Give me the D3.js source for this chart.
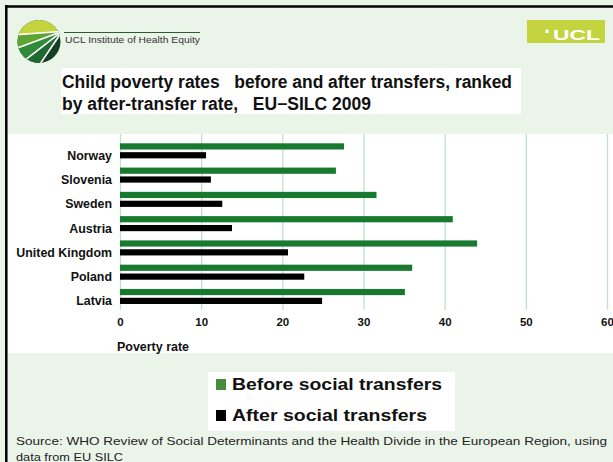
<!DOCTYPE html>
<html>
<head>
<meta charset="utf-8">
<script src="https://cdn.jsdelivr.net/npm/d3@7"></script>
<style>
  html, body { margin: 0; padding: 0; background: #ebf4e9; }
  svg { display: block; }
  text { font-family: "Liberation Sans", Arial, sans-serif; }
</style>
</head>
<body>
<svg id="chart" width="613" height="462"></svg>
<script>
// Child poverty rates (%) before and after social transfers, EU-SILC 2009
const countries = ["Norway", "Slovenia", "Sweden", "Austria", "United Kingdom", "Poland", "Latvia"];
const beforeTransfers = [27.6, 26.6, 31.6, 41.0, 44.0, 36.0, 35.1];
const afterTransfers = [10.6, 11.2, 12.6, 13.8, 20.7, 22.7, 24.9];
const seriesNames = ["Before social transfers", "After social transfers"];
const xTicks = [0, 10, 20, 30, 40, 50, 60];
const titleLines = ["Child poverty rates   before and after transfers, ranked", "by after-transfer rate,   EU\u2212SILC 2009"];
const sourceLines = ["Source: WHO Review of Social Determinants and the Health Divide in the European Region, using", "data from EU SILC"];

const W = 613, H = 462;
const svg = d3.select("#chart");
const seriesColor = { before: "#177a2e", after: "#000000" };
const legendColor = ["#4a8b3c", "#000000"];

// page background and frame
svg.append("rect").attr("width", W).attr("height", H).attr("fill", "#ebf4e9");
svg.append("line").attr("x1", 5).attr("x2", W).attr("y1", 6.5).attr("y2", 6.5)
  .attr("stroke", "#000").attr("stroke-width", 2.5);
svg.append("line").attr("x1", 6.3).attr("x2", 6.3).attr("y1", 5).attr("y2", H)
  .attr("stroke", "#000").attr("stroke-width", 2.5);

// --- Institute logo (circle with rays) ---
const logo = svg.append("g");
const cx = 39, cy = 41.5, r = 21.5;
svg.append("defs").append("clipPath").attr("id", "logoClip")
  .append("circle").attr("cx", cx).attr("cy", cy).attr("r", r);
const apex = [62, 31.5];
const edge = [[12, 35], [12, 50], [20, 64], [36, 70]];
const lg = logo.append("g").attr("clip-path", "url(#logoClip)");
lg.append("rect").attr("x", 10).attr("y", 15).attr("width", 60).attr("height", 55).attr("fill", "#173f24");
const wedge = (pts, fill) => lg.append("polygon").attr("points", pts.map(p => p.join(",")).join(" ")).attr("fill", fill);
wedge([apex, edge[0], [0, 35], [0, 0], [80, 0], [80, apex[1]]], "#c3d43f");
wedge([apex, edge[0], edge[1]], "#5ea434");
wedge([apex, edge[1], edge[2]], "#2f8a3a");
wedge([apex, edge[2], edge[3]], "#1f6a30");
edge.forEach(p => lg.append("line").attr("x1", apex[0]).attr("y1", apex[1]).attr("x2", p[0]).attr("y2", p[1])
  .attr("stroke", "#fff").attr("stroke-width", 1.6));
logo.append("line").attr("x1", 64).attr("x2", 200).attr("y1", 32.5).attr("y2", 32.5)
  .attr("stroke", "#2f5a30").attr("stroke-width", 1);
logo.append("text").attr("x", 65).attr("y", 43).attr("font-size", 9.5).attr("fill", "#333")
  .attr("textLength", 135).attr("lengthAdjust", "spacingAndGlyphs")
  .text("UCL Institute of Health Equity");

// --- UCL wordmark ---
svg.append("rect").attr("x", 527).attr("y", 20).attr("width", 78).attr("height", 23).attr("fill", "#c3d43f");
svg.append("path").attr("d", "M545.5,33 L545.5,30.5 L547,29 L548.5,30.5 L548.5,33 Z").attr("fill", "#fff");
svg.append("text").attr("x", 553).attr("y", 40).attr("font-size", 15).attr("font-weight", "bold")
  .attr("fill", "#fff").attr("textLength", 47).attr("lengthAdjust", "spacingAndGlyphs").text("UCL");

// --- Title ---
svg.append("rect").attr("x", 61).attr("y", 68).attr("width", 460).attr("height", 46).attr("fill", "#fff");
const titleWidths = [450, 309];
titleLines.forEach((t, i) => {
  svg.append("text").attr("x", 62).attr("y", 88 + i * 22).attr("font-size", 17.5).attr("font-weight", "bold")
    .attr("fill", "#111").style("white-space", "pre")
    .attr("textLength", titleWidths[i]).attr("lengthAdjust", "spacingAndGlyphs").text(t);
});

// --- Chart panel ---
svg.append("rect").attr("x", 8).attr("y", 134).attr("width", W - 8).attr("height", 219).attr("fill", "#fff");

const x = d3.scaleLinear().domain([0, 60]).range([120, 607]);
const y = d3.scaleBand().domain(countries).range([138.7, 308.6]).paddingInner(0.38).paddingOuter(0.19);
const keys = ["before", "after"];
const ySub = d3.scaleBand().domain(keys).range([0, y.bandwidth()]).paddingInner(0.3);

const rows = countries.map((c, i) => ({ country: c, before: beforeTransfers[i], after: afterTransfers[i] }));

// grid + tick labels via bottom axis
const gridTop = 134, axisY = 310;
const axis = d3.axisBottom(x).tickValues(xTicks).tickFormat(d3.format("d"))
  .tickSizeInner(-(axisY - gridTop)).tickSizeOuter(0).tickPadding(8);
const gAxis = svg.append("g").attr("transform", `translate(0,${axisY})`).call(axis);
gAxis.select(".domain").remove();
gAxis.selectAll(".tick line").attr("stroke", "#c1e2ca").attr("stroke-width", 1.3);
gAxis.selectAll(".tick text").attr("font-size", 11.5).attr("font-weight", "bold")
  .attr("font-family", "Liberation Sans, Arial, sans-serif").attr("fill", "#111");

// bars
const groups = svg.append("g").selectAll("g").data(rows).join("g")
  .attr("transform", d => `translate(0,${y(d.country)})`);
groups.selectAll("rect").data(d => keys.map(k => ({ key: k, value: d[k] }))).join("rect")
  .attr("x", x(0)).attr("y", d => ySub(d.key)).attr("height", ySub.bandwidth())
  .attr("width", d => x(d.value) - x(0)).attr("fill", d => seriesColor[d.key]);

// category labels
svg.append("g").selectAll("text").data(rows).join("text")
  .attr("x", 112).attr("y", d => y(d.country) + ySub("after") + ySub.bandwidth() / 2)
  .attr("dy", "0.36em").attr("text-anchor", "end").attr("font-size", 12.4).attr("font-weight", "bold")
  .attr("fill", "#111").text(d => d.country);

// axis title
svg.append("text").attr("x", 117).attr("y", 351).attr("font-size", 12).attr("font-weight", "bold")
  .attr("fill", "#111").attr("textLength", 72).attr("lengthAdjust", "spacingAndGlyphs").text("Poverty rate");

// --- Legend ---
svg.append("rect").attr("x", 208).attr("y", 372).attr("width", 247).attr("height", 59).attr("fill", "#fff");
const legendWidths = [210, 195];
seriesNames.forEach((name, i) => {
  const ly = 379 + i * 31;
  svg.append("rect").attr("x", 216).attr("y", ly).attr("width", 10).attr("height", 11).attr("fill", legendColor[i]);
  svg.append("text").attr("x", 232).attr("y", ly + 11).attr("font-size", 17).attr("font-weight", "bold")
    .attr("fill", "#111").attr("textLength", legendWidths[i]).attr("lengthAdjust", "spacingAndGlyphs").text(name);
});

// --- Source note ---
const sourceWidths = [591, 107];
sourceLines.forEach((t, i) => {
  svg.append("text").attr("x", 16).attr("y", 445 + i * 16).attr("font-size", 11.5).attr("fill", "#222")
    .attr("textLength", sourceWidths[i]).attr("lengthAdjust", "spacingAndGlyphs").text(t);
});
</script>
</body>
</html>
